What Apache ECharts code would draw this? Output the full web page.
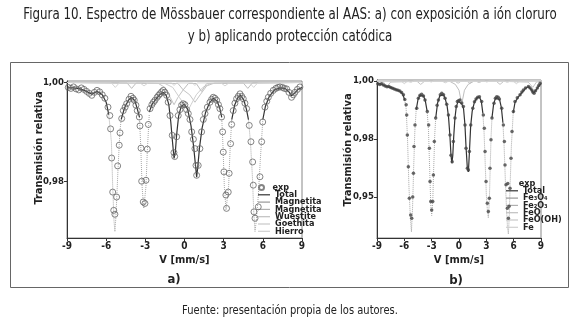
<!DOCTYPE html>
<html><head><meta charset="utf-8">
<script src="https://cdn.jsdelivr.net/npm/echarts@6/dist/echarts.min.js"></script>
<style>html,body{margin:0;padding:0;background:#fff}#c{width:580px;height:324px}</style>
</head><body><div id="c"></div>
<script>
// ---------- texts ----------
const titleLine1 = "Figura 10. Espectro de Mössbauer correspondiente al AAS: a) con exposición a ión cloruro";
const titleLine2 = "y b) aplicando protección catódica";
const footerText = "Fuente: presentación propia de los autores.";
const yAxisTitle = "Transmisión relativa";
const xAxisTitle = "V [mm/s]";
const panelLabels = ["a)", "b)"];
const xTicks = [-9, -6, -3, 0, 3, 6, 9];
const yTicksA = [0.98, 1.00];
const yTickLabelsA = ["0,98", "1,00"];
const yTicksB = [0.95, 0.975, 1.00];
const yTickLabelsB = ["0,95", "0,98", "1,00"];
const legendA = ["exp", "Total", "Magnetita", "Magnetita", "Wuestite", "Goethita", "Hierro"];
const legendB = ["exp", "Total", "Fe\u2083O\u2084", "Fe\u2082O\u2083", "FeO", "FeO(OH)", "Fe"];

// ---------- panel a) data: [velocity mm/s, relative transmission] ----------
const expA = [[-8.9,0.9990],[-8.7,0.9988],[-8.5,0.9991],[-8.3,0.9987],[-8.1,0.9985],[-7.9,0.9989],[-7.7,0.9986],[-7.5,0.9982],[-7.3,0.9978],[-7.1,0.9974],[-6.9,0.9980],[-6.7,0.9984],[-6.5,0.9981],[-6.3,0.9975],[-6.1,0.9968],
[-5.86,0.9950],[-5.72,0.9933],[-5.66,0.9906],[-5.58,0.9847],[-5.5,0.9778],[-5.42,0.9741],[-5.33,0.9733],[-5.2,0.9768],[-5.12,0.9831],[-5.0,0.9873],[-4.94,0.9898],[-4.81,0.9927],[-4.69,0.9943],[-4.55,0.9950],[-4.43,0.9957],[-4.25,0.9966],[-4.1,0.9972],[-3.95,0.9968],[-3.85,0.9964],[-3.72,0.9954],[-3.62,0.9943],[-3.46,0.9930],[-3.41,0.9912],[-3.33,0.9867],[-3.28,0.9800],[-3.16,0.9758],[-3.03,0.9755],[-2.95,0.9802],[-2.85,0.9865],[-2.77,0.9915],[-2.64,0.9947],[-2.5,0.9955],[-2.38,0.9960],[-2.26,0.9964],[-2.1,0.9970],[-1.98,0.9974],[-1.88,0.9977],[-1.75,0.9981],[-1.63,0.9984],[-1.5,0.9980],[-1.37,0.9974],[-1.25,0.9960],[-1.11,0.9933],[-0.94,0.9893],[-0.81,0.9858],[-0.75,0.9850],[-0.6,0.9890],[-0.48,0.9933],[-0.35,0.9945],[-0.22,0.9954],[-0.1,0.9957],[0.03,0.9955],[0.16,0.9945],[0.29,0.9937],[0.42,0.9925],[0.55,0.9900],[0.68,0.9885],[0.8,0.9866],[0.88,0.9832],[0.93,0.9812],[1.05,0.9832],[1.18,0.9866],[1.31,0.9900],[1.44,0.9925],[1.57,0.9937],[1.75,0.9950],[1.95,0.9960],[2.08,0.9966],[2.2,0.9970],[2.33,0.9968],[2.46,0.9964],[2.6,0.9955],[2.71,0.9947],[2.84,0.9930],[2.92,0.9900],[2.97,0.9859],[3.02,0.9819],[3.17,0.9772],[3.22,0.9745],[3.35,0.9778],[3.42,0.9816],[3.53,0.9876],[3.61,0.9915],[3.73,0.9943],[3.86,0.9958],[3.99,0.9967],[4.12,0.9972],[4.25,0.9977],[4.38,0.9972],[4.5,0.9967],[4.63,0.9958],[4.76,0.9947],[4.96,0.9913],[5.09,0.9880],[5.22,0.9839],[5.27,0.9792],[5.32,0.9738],[5.4,0.9725],[5.65,0.9748],[5.78,0.9809],[5.91,0.9880],[5.99,0.9920],[6.16,0.9950],[6.3,0.9962],[6.42,0.9970],[6.6,0.9978],[6.8,0.9984],[7.0,0.9988],[7.15,0.9990],[7.31,0.9991],[7.5,0.9990],[7.65,0.9988],[7.82,0.9987],[8.0,0.9980],[8.2,0.9970],[8.33,0.9975],[8.46,0.9980],[8.65,0.9986],[8.84,0.9991]];
const totalA = [[-9,0.9989],[-8.5,0.9989],[-8,0.9987],[-7.5,0.9982],[-7.1,0.9976],[-6.7,0.9982],[-6.3,0.9975],[-6.0,0.9960],[-5.8,0.9935],[-5.8,'-'],
[-4.85,0.9925],[-4.6,0.9948],[-4.3,0.9964],[-4.05,0.9970],[-3.8,0.9963],[-3.6,0.9945],[-3.45,0.9930],[-3.45,'-'],
[-2.7,0.9940],[-2.5,0.9955],[-2.2,0.9966],[-1.9,0.9975],[-1.63,0.9980],[-1.4,0.9974],[-1.2,0.9955],[-1.05,0.9920],[-0.92,0.9880],[-0.8,0.9846],[-0.7,0.9860],[-0.6,0.9895],[-0.45,0.9932],[-0.25,0.9952],[0.0,0.9956],[0.25,0.9945],[0.5,0.9912],[0.7,0.9870],[0.85,0.9830],[0.93,0.9808],[1.02,0.9830],[1.15,0.9868],[1.35,0.9908],[1.6,0.9938],[1.9,0.9958],[2.2,0.9968],[2.5,0.9962],[2.7,0.9948],[2.85,0.9930],[2.85,'-'],
[3.62,0.9925],[3.85,0.9955],[4.1,0.9970],[4.3,0.9974],[4.55,0.9964],[4.75,0.9945],[4.9,0.9925],[4.9,'-'],
[6.0,0.9925],[6.2,0.9952],[6.5,0.9972],[6.9,0.9985],[7.3,0.9989],[7.7,0.9988],[8.0,0.9981],[8.2,0.9973],[8.45,0.9979],[8.7,0.9986],[9.0,0.9990]];
const magnetita1A = [[-5.8,0.9935],[-5.6,0.9880],[-5.5,0.9790],[-5.4,0.9720],[-5.33,0.9698],[-5.25,0.9730],[-5.1,0.9820],[-4.95,0.9900],[-4.85,0.9925],[-4.85,'-'],
[-3.45,0.9930],[-3.35,0.9870],[-3.25,0.9790],[-3.12,0.9745],[-3.05,0.9745],[-2.95,0.9790],[-2.85,0.9860],[-2.7,0.9935],[-2.7,'-'],
[2.85,0.9930],[2.95,0.9870],[3.05,0.9790],[3.18,0.9742],[3.25,0.9745],[3.38,0.9790],[3.5,0.9870],[3.62,0.9925],[3.62,'-'],
[4.9,0.9925],[5.05,0.9880],[5.2,0.9810],[5.3,0.9740],[5.4,0.9698],[5.5,0.9720],[5.65,0.9770],[5.8,0.9840],[6.0,0.9925]];
const magnetita2A = [[-9,1.0],[-2.0,0.9998],[-1.5,0.9990],[-1.1,0.9970],[-0.8,0.9955],[-0.5,0.9970],[-0.1,0.9985],[0.4,0.9975],[0.8,0.9960],[1.2,0.9975],[1.7,0.9993],[2.3,0.9999],[9,1.0]];
const wuestiteA = [[-9,1.0],[-1.5,0.9998],[-0.9,0.9990],[-0.4,0.9970],[0.0,0.9955],[0.3,0.9945],[0.5,0.9955],[0.9,0.9975],[1.4,0.9990],[2.0,0.9998],[9,1.0]];
const goethitaA = [[-9,1.0],[-4.4,0.9999],[-4.05,0.9988],[-3.7,0.9999],[-0.5,0.9998],[-0.1,0.9985],[0.3,0.9998],[0.9,0.9998],[1.3,0.9982],[1.7,0.9998],[4.5,0.9999],[4.85,0.9988],[5.2,0.9999],[9,1.0]];
const hierroA = [[-9,1.0],[-5.6,0.9999],[-5.3,0.9990],[-5.0,0.9999],[-3.4,0.9999],[-3.1,0.9993],[-2.8,0.9999],[-1.0,0.9999],[-0.8,0.9994],[-0.6,0.9999],[0.6,0.9999],[0.8,0.9994],[1.0,0.9999],[2.8,0.9999],[3.1,0.9993],[3.4,0.9999],[5.0,0.9999],[5.3,0.9990],[5.6,0.9999],[9,1.0]];

// ---------- panel b) data ----------
const expB = [[-8.9,0.9988],[-8.7,0.9985],[-8.5,0.9988],[-8.3,0.9982],[-8.1,0.9978],[-7.9,0.9975],[-7.7,0.9976],[-7.5,0.9972],[-7.3,0.9968],[-7.1,0.9965],[-6.9,0.9962],[-6.7,0.9960],[-6.5,0.9957],[-6.3,0.9950],[-6.1,0.9940],[-5.95,0.9920],[-5.8,0.9897],[-5.74,0.9853],[-5.67,0.9767],[-5.56,0.9630],[-5.45,0.9494],[-5.3,0.9422],[-5.19,0.9408],[-5.08,0.9500],[-5.0,0.9602],[-4.94,0.9717],[-4.83,0.9810],[-4.64,0.9882],[-4.46,0.9925],[-4.28,0.9938],[-4.1,0.9943],[-3.9,0.9935],[-3.73,0.9918],[-3.48,0.9868],[-3.33,0.9810],[-3.25,0.9710],[-3.18,0.9566],[-3.1,0.9480],[-3.0,0.9444],[-2.88,0.9480],[-2.81,0.9595],[-2.71,0.9739],[-2.56,0.9840],[-2.4,0.9895],[-2.26,0.9918],[-2.05,0.9940],[-1.89,0.9947],[-1.7,0.9940],[-1.53,0.9925],[-1.35,0.9900],[-1.16,0.9853],[-0.99,0.9767],[-0.88,0.9680],[-0.75,0.9652],[-0.62,0.9739],[-0.44,0.9840],[-0.3,0.9890],[-0.18,0.9911],[-0.05,0.9915],[0.1,0.9918],[0.3,0.9905],[0.48,0.9890],[0.66,0.9810],[0.77,0.9710],[0.92,0.9624],[1.03,0.9616],[1.14,0.9696],[1.29,0.9810],[1.51,0.9882],[1.7,0.9910],[1.87,0.9922],[2.05,0.9930],[2.24,0.9932],[2.49,0.9911],[2.67,0.9853],[2.78,0.9796],[2.86,0.9696],[2.97,0.9566],[3.11,0.9473],[3.22,0.9437],[3.33,0.9494],[3.4,0.9624],[3.51,0.9746],[3.62,0.9840],[3.84,0.9904],[4.0,0.9925],[4.14,0.9932],[4.3,0.9930],[4.43,0.9922],[4.69,0.9882],[4.87,0.9810],[4.98,0.9739],[5.05,0.9638],[5.16,0.9552],[5.31,0.9451],[5.42,0.9408],[5.5,0.9460],[5.6,0.9537],[5.71,0.9667],[5.82,0.9782],[5.97,0.9868],[6.15,0.9911],[6.4,0.9928],[6.7,0.9940],[6.9,0.9952],[7.07,0.9961],[7.3,0.9970],[7.62,0.9976],[7.8,0.9970],[7.99,0.9961],[8.1,0.9952],[8.24,0.9947],[8.4,0.9958],[8.6,0.9969],[8.75,0.9980],[8.9,0.9990]];
const totalB = [[-9,0.9988],[-8.5,0.9986],[-8.0,0.9977],[-7.5,0.9972],[-7.0,0.9964],[-6.5,0.9956],[-6.2,0.9945],[-5.95,0.9918],[-5.95,'-'],
[-4.7,0.9875],[-4.5,0.9920],[-4.3,0.9937],[-4.1,0.9942],[-3.9,0.9936],[-3.7,0.9915],[-3.5,0.9870],[-3.5,'-'],
[-2.55,0.9842],[-2.35,0.9905],[-2.1,0.9937],[-1.9,0.9945],[-1.7,0.9940],[-1.5,0.9922],[-1.3,0.9890],[-1.15,0.9845],[-1.0,0.9765],[-0.88,0.9680],[-0.78,0.9645],[-0.68,0.9680],[-0.58,0.9760],[-0.45,0.9838],[-0.3,0.9888],[-0.1,0.9912],[0.1,0.9915],[0.3,0.9902],[0.5,0.9880],[0.65,0.9812],[0.78,0.9710],[0.92,0.9622],[1.03,0.9608],[1.14,0.9690],[1.28,0.9805],[1.45,0.9870],[1.7,0.9910],[2.0,0.9928],[2.25,0.9930],[2.45,0.9912],[2.62,0.9860],[2.62,'-'],
[3.62,0.9842],[3.8,0.9900],[4.0,0.9925],[4.2,0.9932],[4.45,0.9920],[4.65,0.9885],[4.82,0.9820],[4.82,'-'],
[5.95,0.9862],[6.15,0.9908],[6.5,0.9930],[6.9,0.9950],[7.3,0.9968],[7.6,0.9975],[7.9,0.9964],[8.2,0.9947],[8.45,0.9960],[8.7,0.9975],[9.0,0.9988]];
const fe3o4B = [[-5.95,0.9918],[-5.8,0.988],[-5.65,0.975],[-5.5,0.955],[-5.35,0.942],[-5.22,0.935],[-5.1,0.945],[-4.98,0.962],[-4.85,0.978],[-4.7,0.9875],[-4.7,'-'],
[-3.5,0.987],[-3.35,0.979],[-3.22,0.962],[-3.1,0.947],[-3.0,0.942],[-2.88,0.948],[-2.78,0.962],[-2.66,0.977],[-2.55,0.9842],[-2.55,'-'],
[2.62,0.986],[2.75,0.978],[2.88,0.964],[3.0,0.951],[3.12,0.944],[3.22,0.941],[3.33,0.948],[3.42,0.962],[3.52,0.976],[3.62,0.9842],[3.62,'-'],
[4.82,0.982],[4.95,0.972],[5.08,0.958],[5.2,0.946],[5.32,0.937],[5.42,0.934],[5.52,0.942],[5.62,0.956],[5.75,0.972],[5.95,0.9862]];
const fe2o3B = [[-9,1.0],[-8.3,0.9995],[-7.9,0.9975],[-7.5,0.9995],[-4.6,0.9998],[-4.2,0.9985],[-3.8,0.9998],[-0.4,0.9998],[-0.1,0.9990],[0.2,0.9998],[0.9,0.9998],[1.2,0.9990],[1.5,0.9998],[4.1,0.9998],[4.5,0.9985],[4.9,0.9998],[7.6,0.9995],[8.1,0.9972],[8.5,0.9995],[9,1.0]];
const feoB = [[-9,1.0],[-1.0,0.9998],[-0.4,0.9985],[0.0,0.9960],[0.3,0.9900],[0.6,0.9960],[1.0,0.9985],[1.6,0.9998],[9,1.0]];
const feoohB = [[-9,1.0],[-6.3,0.9998],[-6.0,0.9988],[-5.7,0.9998],[-1.8,0.9998],[-1.5,0.9992],[-1.2,0.9998],[1.9,0.9998],[2.2,0.9992],[2.5,0.9998],[6.0,0.9998],[6.3,0.9988],[6.6,0.9998],[9,1.0]];
const feB = [[-9,1.0],[-5.6,0.9999],[-5.3,0.9993],[-5.0,0.9999],[-3.3,0.9999],[-3.05,0.9995],[-2.8,0.9999],[-1.0,0.9999],[-0.85,0.9996],[-0.7,0.9999],[0.7,0.9999],[0.85,0.9996],[1.0,0.9999],[2.8,0.9999],[3.05,0.9995],[3.3,0.9999],[5.0,0.9999],[5.3,0.9993],[5.6,0.9999],[9,1.0]];

// ---------- build ----------
const FONT = "'Liberation Sans Narrow','DejaVu Sans Condensed','DejaVu Sans',sans-serif";
const chart = echarts.init(document.getElementById('c'), null, {renderer: 'canvas'});

function lbl(ticks, labels) {
  return v => { for (let i = 0; i < ticks.length; i++) if (Math.abs(ticks[i] - v) < 1e-6) return labels[i]; return ''; };
}
function xAx(gi) {
  return {gridIndex: gi, type: 'value', min: -9, max: 9, interval: 3,
    name: xAxisTitle, nameLocation: 'middle', nameGap: 17,
    nameTextStyle: {fontFamily: FONT, fontSize: 11, fontWeight: 'bold', color: '#222'},
    axisLine: {onZero: false, lineStyle: {color: '#333', width: 1}}, axisTick: {length: 3, lineStyle: {color: '#333'}},
    axisLabel: {fontFamily: FONT, fontSize: 10, fontWeight: 'bold', color: '#222', margin: 3,
      customValues: xTicks, formatter: v => String(v)},
    splitLine: {show: false}};
}
function yAx(gi, min, max, ticks, labels) {
  return {gridIndex: gi, type: 'value', min: min, max: max,
    axisLine: {onZero: false, lineStyle: {color: '#333', width: 1}},
    axisTick: {length: 3, customValues: ticks, lineStyle: {color: '#333'}},
    axisLabel: {fontFamily: FONT, fontSize: 9.5, fontWeight: 'bold', color: '#222', margin: 3,
      customValues: ticks, formatter: lbl(ticks, labels)},
    splitLine: {show: false}};
}
const grayLine = (name, data, xi, color, w, type) => ({name: name, type: 'line', xAxisIndex: xi, yAxisIndex: xi,
  data: data, symbol: 'none', connectNulls: false, silent: true, z: 2,
  itemStyle: {color: color}, lineStyle: {color: color, width: w, type: type || 'solid'}});

const series = [
  grayLine('Magnetita 1', magnetita1A, 0, '#a8a8a8', 1, 'dotted'),
  grayLine('Magnetita 2', magnetita2A, 0, '#c4c4c4', 1),
  grayLine('Wuestite', wuestiteA, 0, '#cfcfcf', 1),
  grayLine('Goethita', goethitaA, 0, '#bdbdbd', 1),
  grayLine('Hierro', hierroA, 0, '#d6d6d6', 1),
  Object.assign(grayLine('Total', totalA, 0, '#333', 1.2), {z: 3}),
  {name: 'exp', type: 'scatter', xAxisIndex: 0, yAxisIndex: 0, data: expA, symbol: 'circle', symbolSize: 6, z: 4, silent: true,
   itemStyle: {color: 'rgba(255,255,255,0)', borderColor: '#666', borderWidth: 1}},

  grayLine('Fe\u2083O\u2084', fe3o4B, 1, '#a8a8a8', 1, 'dotted'),
  grayLine('Fe\u2082O\u2083', fe2o3B, 1, '#c4c4c4', 1),
  grayLine('FeO', feoB, 1, '#bdbdbd', 1),
  grayLine('FeO(OH)', feoohB, 1, '#cfcfcf', 1),
  grayLine('Fe', feB, 1, '#d6d6d6', 1),
  Object.assign(grayLine('Total ', totalB, 1, '#333', 1.2), {z: 3}),
  {name: 'exp ', type: 'scatter', xAxisIndex: 1, yAxisIndex: 1, data: expB, symbol: 'circle', symbolSize: 3.5, z: 4, silent: true,
   itemStyle: {color: '#444'}}
];

const legStyle = {fontFamily: FONT, fontSize: 9, fontWeight: 'bold', color: '#222', lineHeight: 7};
const legendNamesA = ['exp', 'Total', 'Magnetita 1', 'Magnetita 2', 'Wuestite', 'Goethita', 'Hierro'];
const legendNamesB = ['exp ', 'Total ', 'Fe\u2083O\u2084', 'Fe\u2082O\u2083', 'FeO', 'FeO(OH)', 'Fe'];
const legColors = ['#555', '#333', '#999', '#b0b0b0', '#c0c0c0', '#c8c8c8', '#d0d0d0'];
const lineItems = names => names.slice(1).map((n, i) => ({name: n, icon: 'rect', itemStyle: {color: legColors[i + 1]}}));
function legendPair(names, labels, left, top, symSize) {
  const fmt = n => labels[names.indexOf(n)];
  return [
    {orient: 'vertical', left: left, top: top, itemWidth: 12, itemHeight: symSize, itemGap: 0, padding: 0,
     data: [{name: names[0]}], selectedMode: false, textStyle: legStyle, formatter: fmt},
    {orient: 'vertical', left: left, top: top + 7.3, itemWidth: 12, itemHeight: 1.2, itemGap: -1.7, padding: 0,
     data: lineItems(names), selectedMode: false, textStyle: legStyle, formatter: fmt}
  ];
}

const SX = 0.88;
chart.setOption({
  animation: false,
  backgroundColor: '#fff',
  grid: [
    {left: 67, top: 81, width: 235, height: 157, show: true, borderColor: '#888', borderWidth: 1},
    {left: 377, top: 80, width: 164, height: 158, show: true, borderColor: '#888', borderWidth: 1}
  ],
  xAxis: [xAx(0), xAx(1)],
  yAxis: [yAx(0, 0.9685, 1.0003, yTicksA, yTickLabelsA), yAx(1, 0.9323, 1.0004, yTicksB, yTickLabelsB)],
  legend: legendPair(legendNamesA, legendA, 258, 183, 5).concat(legendPair(legendNamesB, legendB, 506, 179, 3.5)),
  graphic: [
    {type: 'rect', shape: {x: 10.5, y: 62.5, width: 558, height: 225}, style: {fill: 'none', stroke: '#666', lineWidth: 1}, z: -1},
    {type: 'text', x: 290, y: 15, scaleX: SX, style: {text: titleLine1, font: "15px " + FONT, fill: '#222', textAlign: 'center', textVerticalAlign: 'middle'}},
    {type: 'text', x: 290, y: 37, scaleX: SX, style: {text: titleLine2, font: "15px " + FONT, fill: '#222', textAlign: 'center', textVerticalAlign: 'middle'}},
    {type: 'text', x: 39, y: 148, rotation: Math.PI / 2, style: {text: yAxisTitle, font: "bold 11px " + FONT, fill: '#222', textAlign: 'center', textVerticalAlign: 'middle'}},
    {type: 'text', x: 348, y: 150, rotation: Math.PI / 2, style: {text: yAxisTitle, font: "bold 11px " + FONT, fill: '#222', textAlign: 'center', textVerticalAlign: 'middle'}},
    {type: 'text', x: 174, y: 280, style: {text: panelLabels[0], font: "bold 13px " + FONT, fill: '#222', textAlign: 'center', textVerticalAlign: 'middle'}},
    {type: 'text', x: 456, y: 281, style: {text: panelLabels[1], font: "bold 13px " + FONT, fill: '#222', textAlign: 'center', textVerticalAlign: 'middle'}},
    {type: 'text', x: 290, y: 311, scaleX: 0.92, style: {text: footerText, font: "12px " + FONT, fill: '#222', textAlign: 'center', textVerticalAlign: 'middle'}}
  ],
  series: series
});
</script></body></html>
